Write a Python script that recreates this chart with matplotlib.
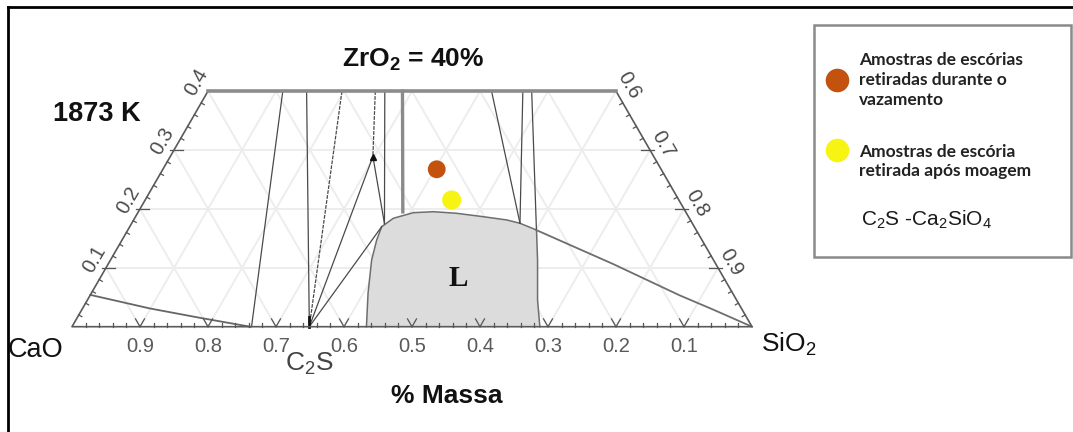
import numpy as np
import matplotlib
matplotlib.use("Agg")
import matplotlib.pyplot as plt
from matplotlib.patches import Rectangle, Polygon

plt.rcParams['font.family'] = ['Liberation Sans', 'DejaVu Sans']
plt.rcParams['mathtext.fontset'] = 'custom'
plt.rcParams['mathtext.rm'] = 'Liberation Sans'
plt.rcParams['mathtext.it'] = 'Liberation Sans:italic'
plt.rcParams['mathtext.bf'] = 'Liberation Sans:bold'

# ---- data (mass fractions: SiO2, ZrO2) ----
zro2_cut = 0.4
bottom_ticks = [0.9, 0.8, 0.7, 0.6, 0.5, 0.4, 0.3, 0.2, 0.1]   # CaO
left_ticks = [0.1, 0.2, 0.3, 0.4]                              # ZrO2
right_ticks = [0.6, 0.7, 0.8, 0.9]                             # SiO2

# liquid region boundary
liq_sio2 = [0.433, 0.407, 0.384, 0.3745, 0.3705, 0.3805, 0.405, 0.434, 0.469,
            0.5115, 0.549, 0.571, 0.601, 0.628, 0.662, 0.688]
liq_zro2 = [0.0, 0.0567, 0.1133, 0.1472, 0.1698, 0.1841, 0.1936, 0.1953, 0.1926,
            0.1868, 0.1812, 0.1756, 0.1642, 0.1133, 0.0453, 0.0]

# phase boundary lines
c2s = (0.349, 0.0)
cao_corner_sio2 = [0.0, 0.099, 0.181, 0.262]
cao_corner_zro2 = [0.054, 0.031, 0.015, 0.0]
line_a = [(0.11, 0.4), (0.264, 0.0)]
line_b = [(0.145, 0.4), c2s]
line_c = [(0.197, 0.4), c2s]
c2s_apex = [c2s, (0.298, 0.289)]
top_apex = [(0.246, 0.4), (0.298, 0.289)]
apex_q = [(0.298, 0.289), (0.372, 0.175)]
top_q = [(0.260, 0.4), (0.372, 0.175)]
c2s_liq = [c2s, (0.3705, 0.170)]
thick_line = [(0.286, 0.4), (0.389, 0.195)]
line_d = [(0.417, 0.4), (0.571, 0.1756)]
line_e = [(0.463, 0.4), (0.571, 0.1756)]
line_f = [(0.476, 0.4), (0.601, 0.164)]
sio2_side_sio2 = [0.601, 0.7424, 0.8676, 0.928, 1.0]
sio2_side_zro2 = [0.164, 0.1065, 0.053, 0.0292, 0.0]

# slag samples
samples_sio2 = [0.4027, 0.4508]
samples_zro2 = [0.2673, 0.2151]
samples_color = ['#c4520f', '#f7f312']
legend_labels = ['Amostras de escórias\nretiradas durante o\nvazamento',
                 'Amostras de escória\nretirada após moagem']

H = np.sqrt(3) / 2


def tern(s, z):
    s = np.asarray(s, float)
    z = np.asarray(z, float)
    return s + z / 2, z * H


def px(x, y):
    # pixel position of the picture -> data coords
    return (x - 72) / 680, (326.7 - y) / 680


fig = plt.figure(figsize=(10.73, 4.32), dpi=100)
ax = fig.add_axes([0, 0, 1, 1])
ax.set_xlim(-72 / 680, (1073 - 72) / 680)
ax.set_ylim((326.7 - 432) / 680, 326.7 / 680)
ax.axis('off')

# light grid
gc = '#ededed'
for v in [0.1, 0.2, 0.3]:
    x, y = tern([0, 1 - v], [v, v])
    ax.plot(x, y, color=gc, lw=1.4, zorder=1)
for v in np.arange(0.1, 1.0, 0.1):
    zt = min(zro2_cut, 1 - v)
    x, y = tern([v, v], [0, zt])            # constant SiO2
    ax.plot(x, y, color=gc, lw=1.4, zorder=1)
    x, y = tern([1 - v, 1 - v - zt], [0, zt])  # constant CaO
    ax.plot(x, y, color=gc, lw=1.4, zorder=1)

# liquid region
lx, ly = tern(liq_sio2, liq_zro2)
ax.add_patch(Polygon(np.column_stack([lx, ly]), closed=True, fc='#dcdcdc', ec='none', zorder=2))
ax.plot(lx, ly, color='#6e6e6e', lw=1.1, zorder=3)

lc = '#4a4a4a'
for seg, st in [(line_a, '-'), (line_b, '-'), (line_c, (0, (3, 1))), (c2s_apex, '-'),
                (top_apex, (0, (3, 1))), (apex_q, '-'), (top_q, '-'), (c2s_liq, '-'),
                (line_d, '-'), (line_e, '-'), (line_f, '-')]:
    s, z = zip(*seg)
    x, y = tern(s, z)
    ax.plot(x, y, color=lc, lw=0.9, ls=st, zorder=3)
s, z = zip(*thick_line)
x, y = tern(s, z)
ax.plot(x, y, color='#8a8a8a', lw=2.4, zorder=3)
x, y = tern(cao_corner_sio2, cao_corner_zro2)
ax.plot(x, y, color='#666666', lw=1.3, zorder=3)
x, y = tern(sio2_side_sio2, sio2_side_zro2)
ax.plot(x, y, color='#6e6e6e', lw=1.3, zorder=3)
# dark marks at C2S and at the apex
cx, cy = tern(c2s[0], c2s[1])
ax.plot([cx, cx], [cy, cy + 10 / 680], color='#111', lw=2, zorder=4)
ax.plot(*tern([0.298], [0.289]), marker='^', color='#111', ms=4, zorder=4)

# trapezoid outline
x, y = tern([0, 0, 1, 1 - zro2_cut], [zro2_cut, 0, 0, zro2_cut])
ax.plot(x, y, color='#5a5a5a', lw=1.2, zorder=4)
x, y = tern([0, 1 - zro2_cut], [zro2_cut, zro2_cut])
ax.plot(x, y, color='#8c8c8c', lw=2.6, zorder=4)

# ticks
tl = 9 / 680
ml = 3.5 / 680
tc = '#555555'
for v in np.arange(0.02, 0.999, 0.02):
    major = abs(v * 10 - round(v * 10)) < 1e-6
    bx, by = tern(v, 0)
    if major:
        for ang in (60, 120):
            ax.plot([bx, bx + tl * np.cos(np.radians(ang))],
                    [by, by + tl * np.sin(np.radians(ang))], color=tc, lw=0.9, zorder=4)
    else:
        ax.plot([bx, bx], [by, by + ml], color=tc, lw=0.9, zorder=4)
for v in np.arange(0.02, zro2_cut - 0.001, 0.02):
    major = abs(v * 10 - round(v * 10)) < 1e-6
    lx0, ly0 = tern(0, v)
    rx0, ry0 = tern(1 - v, v)
    if major:
        ax.plot([lx0 - 0.4 * tl, lx0 + tl], [ly0, ly0], color=tc, lw=0.9, zorder=4)
        ax.plot([rx0 - tl, rx0 + 0.4 * tl], [ry0, ry0], color=tc, lw=0.9, zorder=4)
    else:
        ax.plot([lx0, lx0 + ml * H], [ly0, ly0 - ml / 2], color=tc, lw=0.9, zorder=4)
        ax.plot([rx0, rx0 - ml * H], [ry0, ry0 - ml / 2], color=tc, lw=0.9, zorder=4)

# tick labels
for c in bottom_ticks:
    x, y = tern(1 - c, 0)
    ax.annotate(f'{c:.1f}', (x, y), xytext=(0, -14.5), textcoords='offset points',
                ha='center', va='center', fontsize=14.5, color='#5a5a5a')
for z in left_ticks:
    x, y = tern(0, z)
    ax.annotate(f'{z:.1f}', (x, y), xytext=(-8.5, 6.5), textcoords='offset points',
                ha='center', va='center', fontsize=14.5, color='#4a4a4a', rotation=60)
for s in right_ticks:
    x, y = tern(s, 1 - s)
    ax.annotate(f'{s:.1f}', (x, y), xytext=(9.5, 4), textcoords='offset points',
                ha='center', va='center', fontsize=14.5, color='#4a4a4a', rotation=-60)

# samples
sx, sy = tern(samples_sio2, samples_zro2)
ax.scatter(sx, sy, s=[165, 190], c=samples_color, edgecolors='none', zorder=6)

# texts
ax.text(*px(413, 60), r'ZrO$_\mathbf{2}$ = 40%', ha='center', va='center',
        fontsize=19, fontweight='bold', color='#111')
ax.text(*px(97, 114), '1873 K', ha='center', va='center', fontsize=19.5,
        fontweight='bold', color='#111')
ax.text(*px(35, 350), 'CaO', ha='center', va='center', fontsize=19.5, color='#111')
ax.text(*px(789, 344), r'SiO$_2$', ha='center', va='center', fontsize=19, color='#111')
ax.text(*px(309, 364), r'C$_2$S', ha='center', va='center', fontsize=19, color='#444')
ax.text(*px(447, 396), '% Massa', ha='center', va='center', fontsize=19,
        fontweight='bold', color='#111')
ax.text(*px(458, 279), 'L', ha='center', va='center', fontsize=21, fontweight='bold',
        color='#111', family='Liberation Serif')

# legend box
x0, y0 = px(814, 257)
x1, y1 = px(1071, 25)
ax.add_patch(Rectangle((x0, y0), x1 - x0, y1 - y0, fc='white', ec='#8a8a8a', lw=1.8, zorder=5))
ax.plot(*px(837, 80), 'o', ms=17, color=samples_color[0], mec='none', zorder=6)
ax.plot(*px(837, 150), 'o', ms=17, color=samples_color[1], mec='none', zorder=6)
ax.text(*px(859, 80), legend_labels[0], ha='left', va='center', fontsize=12.5,
        fontweight='bold', color='#222', family='Lato', linespacing=1.3, zorder=7)
ax.text(*px(859, 161.5), legend_labels[1], ha='left', va='center', fontsize=12.5,
        fontweight='bold', color='#222', family='Lato', linespacing=1.3, zorder=7)
ax.text(*px(861, 220), r'C$_2$S -Ca$_2$SiO$_4$', ha='left', va='center', fontsize=15,
        color='#1a1a1a', zorder=7)

# outer frame (top and left)
ax.plot(*zip(px(8.3, 6.5), px(1073, 6.5)), color='black', lw=2, zorder=8)
ax.plot(*zip(px(8.3, 6.5), px(8.3, 432)), color='black', lw=2, zorder=8)

fig.savefig('out.png', dpi=100)
